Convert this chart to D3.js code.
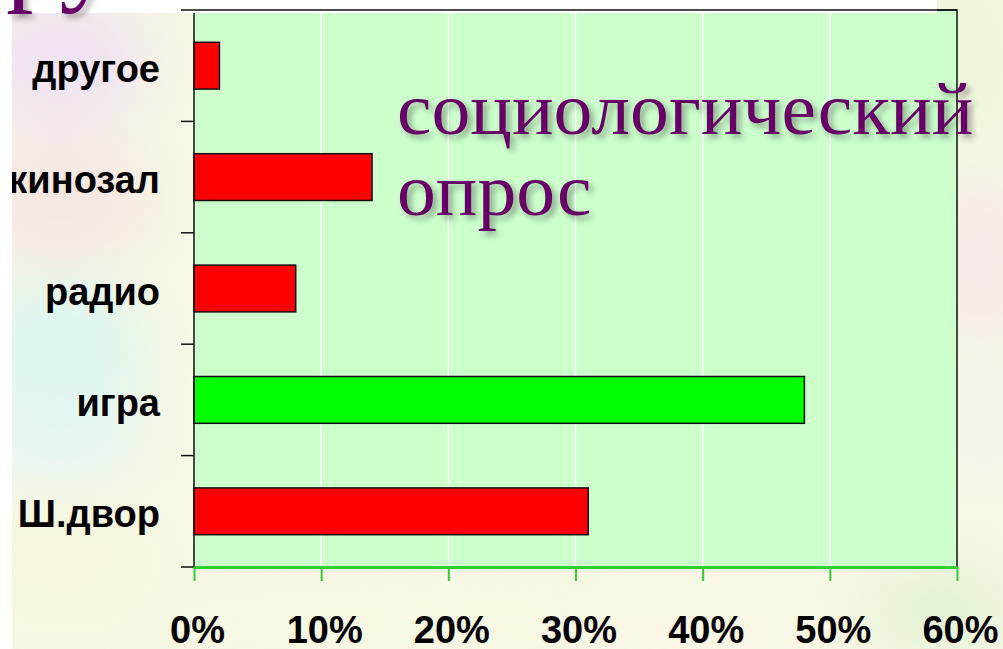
<!DOCTYPE html>
<html>
<head>
<meta charset="utf-8">
<script src="https://cdn.jsdelivr.net/npm/d3@7"></script>
<style>
  body { margin: 0; background: #fff; }
  svg { display: block; }
</style>
</head>
<body>
<svg id="chart"></svg>
<script>
// survey results
const categories = ["другое", "кинозал", "радио", "игра", "Ш.двор"];
const shares = [0.02, 0.14, 0.08, 0.48, 0.31];
const xTicks = [0, 0.1, 0.2, 0.3, 0.4, 0.5, 0.6];
const titleLines = ["социологический", "опрос"];
const highlighted = "игра";

const width = 1003, height = 649;
const plot = {left: 194, right: 957, top: 10, bottom: 567};

const svg = d3.select("#chart").attr("width", width).attr("height", height);
const defs = svg.append("defs");

// soft pastel slide background
const blur = defs.append("filter").attr("id", "soft")
    .attr("x", "-50%").attr("y", "-50%").attr("width", "200%").attr("height", "200%");
blur.append("feGaussianBlur").attr("stdDeviation", 28);

const shadow = defs.append("filter").attr("id", "shadow")
    .attr("x", "-10%").attr("y", "-20%").attr("width", "130%").attr("height", "160%");
shadow.append("feGaussianBlur").attr("in", "SourceAlpha").attr("stdDeviation", 3).attr("result", "b");
shadow.append("feOffset").attr("in", "b").attr("dx", 4).attr("dy", 4).attr("result", "o");
shadow.append("feComponentTransfer").attr("in", "o").attr("result", "s")
    .append("feFuncA").attr("type", "linear").attr("slope", 0.35);
const merge = shadow.append("feMerge");
merge.append("feMergeNode").attr("in", "s");
merge.append("feMergeNode").attr("in", "SourceGraphic");

svg.append("rect").attr("width", width).attr("height", height).attr("fill", "#f6f7e4");

const blobs = [
    [60, 60, 90, 70, "#f0e4f2"],
    [60, 200, 90, 60, "#f6e6e2"],
    [60, 350, 80, 70, "#dcf6f0"],
    [60, 430, 80, 50, "#e4f6f4"],
    [60, 560, 90, 60, "#f8f6de"],
    [500, 620, 400, 40, "#f6f8e2"],
    [960, 60, 60, 90, "#eef6dc"],
    [980, 260, 50, 80, "#f6e8e8"],
    [980, 420, 40, 60, "#f2f4ee"],
    [940, 610, 70, 40, "#e2f2d4"],
    [700, 630, 120, 30, "#fbf6e6"]
];
const bg = svg.append("g").attr("filter", "url(#soft)");
blobs.forEach(b => {
    bg.append("ellipse").attr("cx", b[0]).attr("cy", b[1]).attr("rx", b[2]).attr("ry", b[3]).attr("fill", b[4]);
});

const x = d3.scaleLinear().domain([0, 0.6]).range([plot.left, plot.right]);
const y = d3.scaleBand().domain(categories).range([plot.top, plot.bottom])
    .paddingInner(0.58).paddingOuter(0.29);

// plot area
svg.append("rect")
    .attr("x", plot.left).attr("y", plot.top)
    .attr("width", plot.right - plot.left).attr("height", plot.bottom - plot.top)
    .attr("fill", "#ccffcc");

svg.append("g").selectAll("line")
    .data(xTicks.slice(1, -1))
    .join("line")
    .attr("x1", d => x(d)).attr("x2", d => x(d))
    .attr("y1", plot.top).attr("y2", plot.bottom)
    .attr("stroke", "#ffffff").attr("stroke-width", 1.5);

// frame: top and right in black
svg.append("path")
    .attr("d", `M${plot.left},${plot.top}H${plot.right}V${plot.bottom}`)
    .attr("fill", "none").attr("stroke", "#111").attr("stroke-width", 1.5);

// bars
svg.append("g").selectAll("rect")
    .data(categories.map((c, i) => ({cat: c, v: shares[i]})))
    .join("rect")
    .attr("x", x(0))
    .attr("y", d => y(d.cat))
    .attr("width", d => x(d.v) - x(0))
    .attr("height", y.bandwidth())
    .attr("fill", d => d.cat === highlighted ? "#00ff00" : "#ff0000")
    .attr("stroke", "#111").attr("stroke-width", 1.5);

// y axis with ticks between categories
const gap = y.step() * y.paddingInner() / 2;
const bounds = [y(categories[0]) - gap].concat(categories.map(c => y(c) + y.bandwidth() + gap));
const yAxis = svg.append("g").attr("transform", `translate(${plot.left},0)`);
yAxis.append("line")
    .attr("x1", 0).attr("x2", 0).attr("y1", plot.top).attr("y2", plot.bottom)
    .attr("stroke", "#111").attr("stroke-width", 1.5);
yAxis.selectAll(".bt")
    .data(bounds)
    .join("line")
    .attr("class", "bt")
    .attr("x1", -13).attr("x2", 0)
    .attr("y1", d => d).attr("y2", d => d)
    .attr("stroke", "#111").attr("stroke-width", 1.5);
yAxis.selectAll(".lbl")
    .data(categories)
    .join("text")
    .attr("class", "lbl")
    .attr("x", -34)
    .attr("y", d => y(d) + y.bandwidth() / 2 + 16)
    .attr("text-anchor", "end")
    .attr("font-family", "'Liberation Sans', Arial, sans-serif")
    .attr("font-weight", "bold")
    .attr("font-size", 38)
    .attr("textLength", d => null)
    .attr("fill", "#000")
    .text(d => d);

// white band across the top and left edge of the slide
svg.append("rect").attr("x", 0).attr("y", 0).attr("width", 937).attr("height", 13).attr("fill", "#fff");
svg.append("rect").attr("x", 0).attr("y", 0).attr("width", 12).attr("height", height).attr("fill", "#fff");
svg.append("path")
    .attr("d", `M${plot.left},${plot.top}H${plot.right}`)
    .attr("stroke", "#111").attr("stroke-width", 1.5);
svg.append("line")
    .attr("x1", plot.left - 13).attr("x2", plot.left)
    .attr("y1", bounds[0]).attr("y2", bounds[0])
    .attr("stroke", "#111").attr("stroke-width", 1.5);

// fragment of the slide heading cut off at the top
svg.append("text")
    .attr("x", 6).attr("y", -9)
    .attr("font-family", "'Liberation Serif', 'Times New Roman', serif")
    .attr("font-size", 110)
    .attr("fill", "#660066")
    .attr("filter", "url(#shadow)")
    .text("ру");

// x axis
const xAxis = svg.append("g")
    .attr("transform", `translate(0,${plot.bottom})`)
    .call(d3.axisBottom(x).tickValues(xTicks).tickFormat(d3.format(".0%"))
        .tickSize(14).tickPadding(35).tickSizeOuter(0));
xAxis.select(".domain").attr("stroke", "#33cc33").attr("stroke-width", 3);
xAxis.selectAll(".tick line").attr("stroke", "#33cc33").attr("stroke-width", 2);
xAxis.selectAll(".tick text")
    .attr("dx", 3)
    .attr("fill", "#000")
    .attr("font-family", "'Liberation Sans', Arial, sans-serif")
    .attr("font-weight", "bold")
    .attr("font-size", 38);

// title overlay
svg.append("g")
    .attr("transform", "translate(397,0) scale(1.05,1)")
    .attr("filter", "url(#shadow)")
    .selectAll("text")
    .data(titleLines)
    .join("text")
    .attr("x", 0)
    .attr("y", (d, i) => 134 + i * 81)
    .attr("font-family", "'Liberation Serif', 'Times New Roman', serif")
    .attr("font-size", 74)
    .attr("fill", "#660066")
    .text(d => d);
</script>
</body>
</html>
